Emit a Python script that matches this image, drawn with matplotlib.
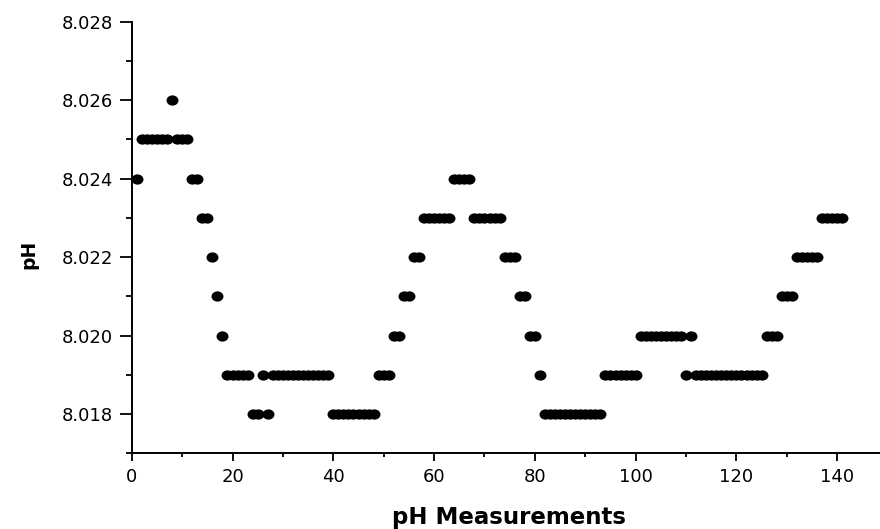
import numpy as np
import matplotlib
matplotlib.use('Agg')
import matplotlib.pyplot as plt
from matplotlib.path import Path
from matplotlib.transforms import Affine2D
from matplotlib.ticker import MultipleLocator, FormatStrFormatter

# pH readings, one per measurement (1..141)
measurement = list(range(1, 142))
ph = [8.024,
      8.025, 8.025, 8.025, 8.025, 8.025, 8.025,
      8.026,
      8.025, 8.025, 8.025,
      8.024, 8.024,
      8.023, 8.023,
      8.022, 8.021, 8.020,
      8.019, 8.019, 8.019, 8.019, 8.019,
      8.018, 8.018, 8.019, 8.018,
      8.019, 8.019, 8.019, 8.019, 8.019, 8.019, 8.019, 8.019, 8.019, 8.019, 8.019, 8.019,
      8.018, 8.018, 8.018, 8.018, 8.018, 8.018, 8.018, 8.018, 8.018,
      8.019, 8.019, 8.019,
      8.020, 8.020,
      8.021, 8.021,
      8.022, 8.022,
      8.023, 8.023, 8.023, 8.023, 8.023, 8.023,
      8.024, 8.024, 8.024, 8.024,
      8.023, 8.023, 8.023, 8.023, 8.023, 8.023,
      8.022, 8.022, 8.022,
      8.021, 8.021,
      8.020, 8.020,
      8.019,
      8.018, 8.018, 8.018, 8.018, 8.018, 8.018, 8.018, 8.018, 8.018, 8.018, 8.018, 8.018,
      8.019, 8.019, 8.019, 8.019, 8.019, 8.019, 8.019,
      8.020, 8.020, 8.020, 8.020, 8.020, 8.020, 8.020, 8.020, 8.020,
      8.019, 8.020,
      8.019, 8.019, 8.019, 8.019, 8.019, 8.019, 8.019, 8.019, 8.019, 8.019, 8.019, 8.019, 8.019, 8.019,
      8.020, 8.020, 8.020,
      8.021, 8.021, 8.021,
      8.022, 8.022, 8.022, 8.022, 8.022,
      8.023, 8.023, 8.023, 8.023, 8.023]

plt.rcParams['font.family'] = ['DejaVu Sans']

fig = plt.figure(figsize=(8.8, 5.29), dpi=100)
ax = fig.add_axes([0.1497, 0.1431, 0.8498, 0.8159])

# slightly wide dots, like the original
dot = Path.unit_circle().transformed(Affine2D().scale(1, 0.86))
ax.plot(measurement, ph, linestyle='none', marker=dot, markersize=8.6,
        color='black', markeredgewidth=0)

ax.set_xlim(0, 148.4)
ax.set_ylim(8.017, 8.028)

ax.xaxis.set_major_locator(MultipleLocator(20))
ax.xaxis.set_minor_locator(MultipleLocator(10))
ax.yaxis.set_major_locator(MultipleLocator(0.002))
ax.yaxis.set_minor_locator(MultipleLocator(0.001))
ax.yaxis.set_major_formatter(FormatStrFormatter('%.3f'))

# Decorations
ax.spines['top'].set_visible(False)
ax.spines['right'].set_visible(False)
for s in ['left', 'bottom']:
    ax.spines[s].set_linewidth(1.4)

ax.tick_params(axis='x', which='major', length=5.8, width=1.3, pad=5, labelsize=13)
ax.tick_params(axis='x', which='minor', length=2.9, width=1.3)
ax.tick_params(axis='y', which='major', length=8.4, width=1.3, pad=5, labelsize=13)
ax.tick_params(axis='y', which='minor', length=4.0, width=1.3)

ax.set_xlabel('pH Measurements', fontsize=16.5, fontweight='bold')
ax.set_ylabel('pH', fontsize=13.5, fontweight='bold')
ax.xaxis.set_label_coords(0.505, -0.123)
ax.yaxis.set_label_coords(-0.125, 0.46)

fig.savefig('out.png', dpi=100)
